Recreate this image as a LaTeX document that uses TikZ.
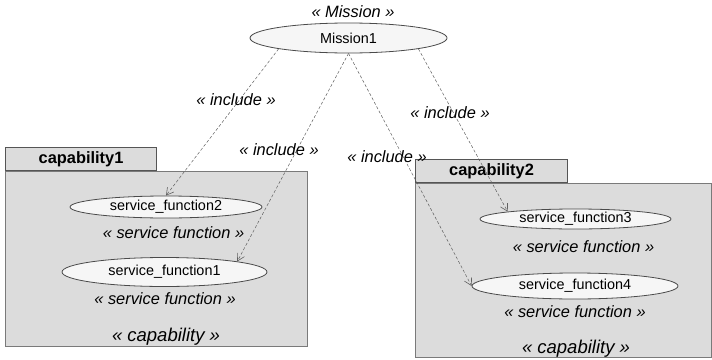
\documentclass[tikz,border=0pt]{standalone}
\usepackage{fontspec}
\setmainfont{Liberation Sans}
\usetikzlibrary{shapes.geometric,arrows.meta,positioning}

\definecolor{pkgfill}{HTML}{DCDCDC}
\definecolor{pkgline}{HTML}{7A7A7A}
\definecolor{tabline}{HTML}{555555}
\definecolor{ucfill}{HTML}{F6F6F6}
\definecolor{ucline}{HTML}{4A4A4A}
\definecolor{incline}{HTML}{606060}

\begin{document}
\begin{tikzpicture}[
    x=1pt, y=-1pt,
    usecase/.style={
        ellipse, draw=ucline, fill=ucfill, line width=0.8pt,
        inner sep=0pt, font=\fontsize{14.4}{16}\selectfont
    },
    stereo/.style={
        inner sep=0pt,
        font=\fontsize{16.4}{18}\selectfont\itshape
    },
    bigstereo/.style={
        inner sep=0pt,
        font=\fontsize{18.5}{20}\selectfont\itshape
    },
    pkgbody/.style={
        rectangle, draw=pkgline, fill=pkgfill, line width=0.9pt,
        anchor=north west, inner sep=0pt
    },
    pkgtab/.style={
        rectangle, draw=tabline, fill=pkgfill, line width=1.1pt,
        anchor=south west, inner sep=0pt,
        font=\bfseries\fontsize{16.4}{18}\selectfont
    },
    includes/.style={
        draw=incline, line width=0.5pt, dash pattern=on 3pt off 2pt,
        -{Straight Barb[length=7pt,width=8pt,line width=0.6pt]}
    }
]
\useasboundingbox (0,0) rectangle (712,359);

% Packages
\node[pkgbody, minimum width=302, minimum height=175] (cap1) at (5,171) {};
\node[pkgtab, minimum width=151, minimum height=23] (cap1tab) at (cap1.north west) {capability1};
\node[pkgbody, minimum width=296, minimum height=174] (cap2) at (415,183) {};
\node[pkgtab, minimum width=152, minimum height=23] (cap2tab) at (cap2.north west) {capability2};

% Mission
\node[usecase, minimum width=197, minimum height=30] (m1) at (348.5,38) {Mission1};
\node[stereo] (m1st) at (353,12) {« Mission »};

% Service functions in capability1
\node[usecase, minimum width=192, minimum height=22] (sf2) at (166,207) {service\_function2};
\node[stereo] (sf2st) at (173.5,233) {« service function »};
\node[usecase, minimum width=205, minimum height=29] (sf1) at (164.5,272) {service\_function1};
\node[stereo] (sf1st) at (165,299) {« service function »};
\node[bigstereo] (cap1st) at (166,337) {« capability »};

% Service functions in capability2
\node[usecase, minimum width=191, minimum height=20] (sf3) at (575.5,219) {service\_function3};
\node[stereo] (sf3st) at (583.5,247) {« service function »};
\node[usecase, minimum width=206, minimum height=26] (sf4) at (575,286) {service\_function4};
\node[stereo] (sf4st) at (575,312) {« service function »};
\node[bigstereo] (cap2st) at (576,349) {« capability »};

% Include dependencies
\draw[includes] (m1.south west) -- (sf2.north);
\draw[includes] (m1.south) -- (sf1.north east);
\draw[includes] (m1.south) -- (sf4.west);
\draw[includes] (m1.south east) -- (sf3.north west);

% Labels of the dependencies
\node[stereo] (inc1) at (236,100) {« include »};
\node[stereo] (inc2) at (279,150) {« include »};
\node[stereo] (inc3) at (387,157) {« include »};
\node[stereo] (inc4) at (450,113) {« include »};

\end{tikzpicture}
\end{document}
